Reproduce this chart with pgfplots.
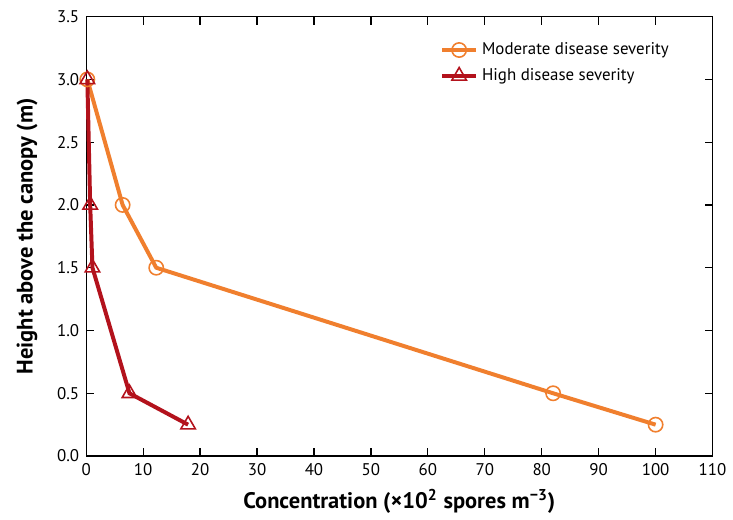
\documentclass[border={5pt 0pt 0pt 2pt}]{standalone}
\usepackage{pgfplots}
\pgfplotsset{compat=1.18}
\usepackage{fontspec}
\setmainfont{PT Sans}
\definecolor{modorange}{HTML}{F07F2E}
\definecolor{highred}{HTML}{B3121C}
\begin{document}
\begin{tikzpicture}
\begin{axis}[
    width=315pt, height=221pt,
    scale only axis,
    xmin=0, xmax=110, ymin=0, ymax=3.5,
    xtick={0,10,...,110},
    ytick={0,0.5,...,3.5},
    yticklabel style={/pgf/number format/.cd,fixed,fixed zerofill,precision=1},
    /pgf/number format/assume math mode=true,
    tick align=inside,
    major tick length=4pt,
    tick style={black, line width=0.6pt},
    axis line style={line width=0.6pt},
    tick label style={font=\fontsize{8.5}{10}\selectfont},
    xlabel={\textbf{Concentration (×10\textsuperscript{2} spores m\textsuperscript{−3})}},
    ylabel={\textbf{Height above the canopy (m)}},
    label style={font=\fontsize{11.3}{13}\selectfont},
    xlabel style={yshift=0pt},
    ylabel style={yshift=3pt},
    clip=false,
    legend style={at={(0.555,0.96)}, anchor=north west, draw=none, fill=none,
        font=\fontsize{8.5}{10}\selectfont, row sep=1.5pt},
    legend cell align=left,
]
\addplot[modorange, line width=2pt, mark=o, mark size=3.6pt,
    mark options={fill=white, line width=0.8pt}]
    coordinates {(0.2,3.0) (6.4,2.0) (12.3,1.5) (82,0.5) (100,0.25)};
\addlegendentry{Moderate disease severity}
\addplot[highred, line width=2pt, mark=triangle, mark size=4.2pt,
    mark options={fill=white, line width=0.8pt}]
    coordinates {(0.2,3.0) (0.7,2.0) (1.1,1.5) (7.6,0.5) (17.9,0.25)};
\addlegendentry{High disease severity}
\end{axis}
\end{tikzpicture}
\end{document}
